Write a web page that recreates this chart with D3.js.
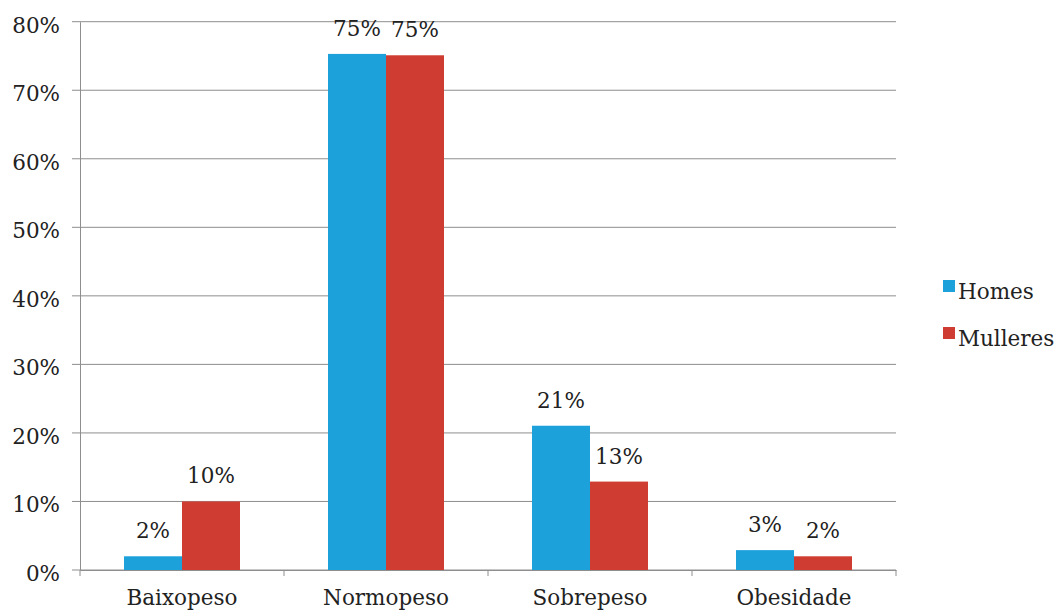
<!DOCTYPE html>
<html>
<head>
<meta charset="utf-8">
<script src="https://cdn.jsdelivr.net/npm/d3@7"></script>
<style>
  html, body { margin: 0; padding: 0; background: #fff; }
  svg { display: block; }
</style>
</head>
<body>
<svg id="chart" width="1056" height="612"></svg>
<script>
const categories = ["Baixopeso", "Normopeso", "Sobrepeso", "Obesidade"];
const seriesNames = ["Homes", "Mulleres"];
const homesValues = [0.02, 0.753, 0.2105, 0.029];
const mulleresValues = [0.10, 0.751, 0.129, 0.02];
const yTickValues = [0, 0.1, 0.2, 0.3, 0.4, 0.5, 0.6, 0.7, 0.8];
const colors = ["#1ca1db", "#cf3d32"];

const FONT = "'DejaVu Serif', 'Liberation Serif', serif";
const FSIZE = 21.5;
const seriesValues = [homesValues, mulleresValues];
const svg = d3.select("#chart");
const margin = { left: 80, right: 160, top: 21.7, bottom: 42 };
const W = 1056, H = 612;

const x = d3.scaleBand().domain(categories).range([margin.left, W - margin.right]).padding(0);
const bw = x.bandwidth();
const xs = d3.scaleBand().domain(seriesNames).range([bw * 0.2157, bw * 0.7843]).padding(0);
const y = d3.scaleLinear().domain([0, 0.8]).range([H - margin.bottom, margin.top]);

const fmt = d3.format(".0%");
const gridColor = "#8e8e8e";
const textColor = "#222";

function styleText(sel) {
  sel.attr("font-family", FONT)
    .attr("font-size", FSIZE)
    .attr("fill", textColor);
}

// gridlines
svg.append("g")
  .selectAll("line")
  .data(yTickValues)
  .join("line")
  .attr("x1", margin.left - 8)
  .attr("x2", W - margin.right)
  .attr("y1", d => y(d)).attr("y2", d => y(d))
  .attr("stroke", gridColor).attr("stroke-width", 1);

// y axis labels
const yAxis = d3.axisLeft(y).tickValues(yTickValues).tickFormat(fmt).tickSize(0).tickPadding(20);
const gy = svg.append("g").attr("transform", `translate(${margin.left},0)`).call(yAxis);
gy.attr("font-family", FONT).attr("font-size", FSIZE);
gy.select(".domain").attr("stroke", gridColor);
gy.selectAll("text").call(styleText).attr("dy", "0.48em");

// x axis
const xAxis = d3.axisBottom(x).tickSize(0).tickPadding(20);
const gx = svg.append("g").attr("transform", `translate(0,${y(0)})`).call(xAxis);
gx.attr("font-family", FONT).attr("font-size", FSIZE);
gx.select(".domain").attr("stroke", gridColor);
gx.selectAll("text").call(styleText);
// boundary ticks
const bounds = categories.map(c => x(c)).concat([x(categories[categories.length - 1]) + bw]);
gx.selectAll("line.bound")
  .data(bounds)
  .join("line")
  .attr("class", "bound")
  .attr("x1", d => d).attr("x2", d => d)
  .attr("y1", 0).attr("y2", 6)
  .attr("stroke", gridColor);

// bars
const groups = svg.append("g")
  .selectAll("g")
  .data(categories)
  .join("g")
  .attr("transform", c => `translate(${x(c)},0)`);

groups.selectAll("rect")
  .data((c, i) => seriesNames.map((s, j) => ({ s, j, v: seriesValues[j][i] })))
  .join("rect")
  .attr("x", d => xs(d.s))
  .attr("width", xs.bandwidth())
  .attr("y", d => y(d.v))
  .attr("height", d => y(0) - y(d.v))
  .attr("fill", d => colors[d.j]);

groups.selectAll("text.val")
  .data((c, i) => seriesNames.map((s, j) => ({ s, j, v: seriesValues[j][i] })))
  .join("text")
  .attr("class", "val")
  .attr("x", d => xs(d.s) + xs.bandwidth() / 2)
  .attr("y", d => y(d.v) - 18)
  .attr("text-anchor", "middle")
  .call(styleText)
  .text(d => fmt(d.v));

// legend
const legend = svg.append("g").attr("transform", "translate(943,280)");
const li = legend.selectAll("g")
  .data(seriesNames)
  .join("g")
  .attr("transform", (d, i) => `translate(0,${i * 47})`);
li.append("rect").attr("width", 12).attr("height", 12).attr("fill", (d, i) => colors[i]);
li.append("text")
  .attr("x", 15).attr("y", 19)
  .call(styleText)
  .text(d => d);
</script>
</body>
</html>
